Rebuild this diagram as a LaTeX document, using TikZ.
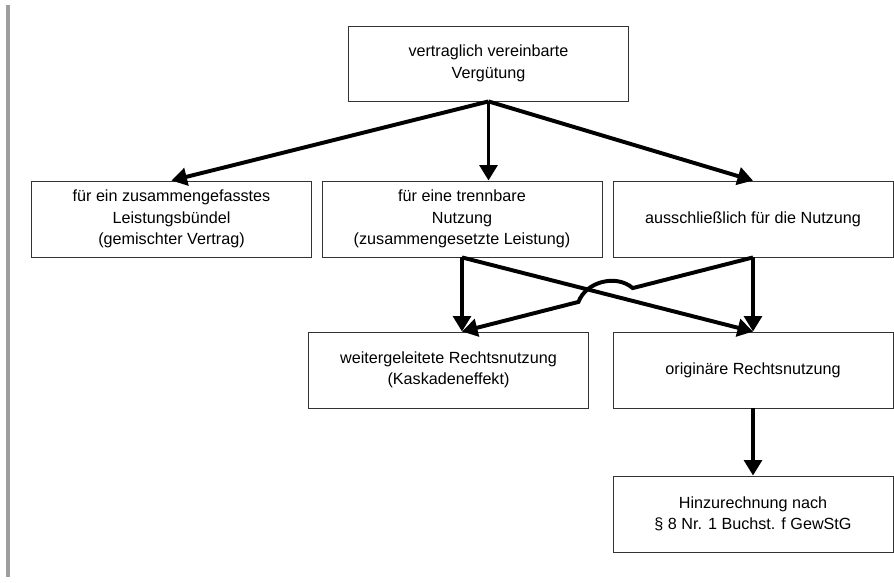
\documentclass[tikz,border=0pt]{standalone}
\usepackage{fontspec}
\setmainfont{Liberation Sans}
\usetikzlibrary{arrows.meta,calc}

\tikzset{
  kasten/.style={draw=black!80, line width=0.6pt, minimum width=7cm, minimum height=1.9cm,
    align=center, inner sep=2pt},
  pfeil/.style={line width=2.8pt, -{Triangle[length=11pt,width=12.5pt]}}
}

\begin{document}
\begin{tikzpicture}[font=\fontsize{11.5}{15.3}\selectfont]
  \useasboundingbox (0,0) rectangle (22.35,-14.55);
  \fill[black!38] (0.15,-0.125) rectangle (0.25,-14.43);

  \node[kasten, minimum height=1.875cm] (verg) at (12.2125,-1.5875) {vertraglich vereinbarte\\Vergütung};
  \node[kasten] (buendel) at (4.2875,-5.475) {für ein zusammengefasstes\\Leistungsbündel\\(gemischter Vertrag)};
  \node[kasten] (trennbar) at (11.55,-5.475) {für eine trennbare\\Nutzung\\(zusammengesetzte Leistung)};
  \node[kasten] (nutzung) at (18.825,-5.475) {ausschließlich für die Nutzung};
  \node[kasten] (weiter) at (11.2125,-9.25) {weitergeleitete Rechtsnutzung\\(Kaskadeneffekt)};
  \node[kasten] (orig) at (18.825,-9.25) {originäre Rechtsnutzung};
  \node[kasten] (hinzu) at (18.825,-12.85) {Hinzurechnung nach\\§ 8 Nr. 1 Buchst. f GewStG};

  \coordinate (weiterin) at (trennbar.south |- weiter.north);
  \coordinate (kreuz) at (intersection of trennbar.south--orig.north and nutzung.south--weiterin);

  \draw[pfeil] (verg.south) -- (buendel.north);
  \draw[pfeil] (verg.south) -- (verg.south |- trennbar.north);
  \draw[pfeil] (verg.south) -- (nutzung.north);

  \draw[pfeil] (trennbar.south) -- (weiterin);
  \draw[pfeil] (trennbar.south) -- (orig.north);
  \draw[pfeil] (nutzung.south) -- (orig.north);
  % Sprung ueber die Kreuzung
  \draw[pfeil] (nutzung.south) -- ($(kreuz)!0.65cm!(nutzung.south)$)
    to[bend right=55] ($(kreuz)!0.75cm!(weiterin)$) -- (weiterin);

  \draw[pfeil] (orig.south) -- (hinzu.north);
\end{tikzpicture}
\end{document}
